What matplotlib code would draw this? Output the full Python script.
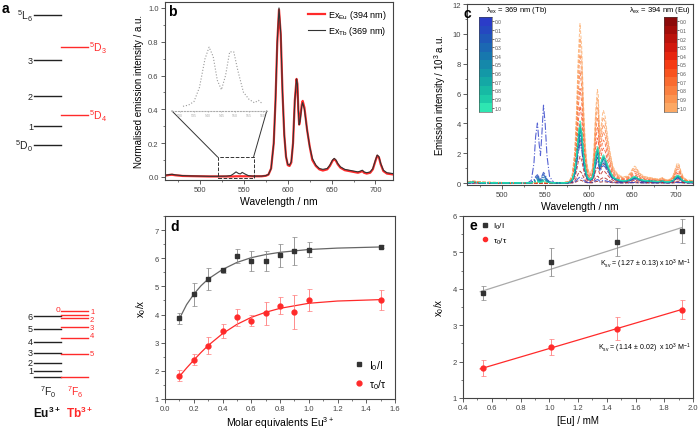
import numpy as np
import matplotlib
matplotlib.use('Agg')
import matplotlib.pyplot as plt
from matplotlib.colors import ListedColormap
from matplotlib.ticker import MultipleLocator, FormatStrFormatter

plt.rcParams['font.family'] = ['Liberation Sans', 'DejaVu Sans']
plt.rcParams['mathtext.default'] = 'regular'
plt.rcParams['axes.linewidth'] = 0.8
plt.rcParams['axes.edgecolor'] = '#444444'
for ax_name in ['xtick', 'ytick']:
    plt.rcParams[ax_name + '.direction'] = 'out'
    plt.rcParams[ax_name + '.major.size'] = 3
    plt.rcParams[ax_name + '.minor.size'] = 1.6
    plt.rcParams[ax_name + '.major.width'] = 0.6
    plt.rcParams[ax_name + '.minor.width'] = 0.5
    plt.rcParams[ax_name + '.labelsize'] = 5.5
    plt.rcParams[ax_name + '.color'] = '#444444'
    plt.rcParams[ax_name + '.major.pad'] = 1.5

RED = '#ff2a2a'

# ---------------- data ----------------
# panel a: energy levels (diagram height, arbitrary units)
eu_upper_h = [285, 304, 334, 370, 415]
eu_upper_lab = ['$^5$D$_0$', '1', '2', '3', '$^5$L$_6$']
tb_upper_h = [315, 383]
tb_upper_lab = ['$^5$D$_4$', '$^5$D$_3$']
eu_lower_h = [53, 59, 67, 77, 88, 101, 114]      # 7F0 .. 7F6
tb_lower_h = [119, 115, 112, 103, 92, 76, 53]    # 7F0 .. 7F6

# panel b: normalised emission spectra
b_wl = [460, 465, 468, 472, 480, 490, 500, 510, 520, 530, 535, 538, 541, 544, 546,
        548, 551, 555, 560, 570, 575, 578, 581, 584, 586, 588, 590, 592, 594, 596,
        598, 600, 602, 604, 606, 608, 610, 611, 612, 613, 614, 616, 617, 619, 622,
        625, 628, 632, 636, 640, 645, 648, 651, 653, 655, 657, 660, 665, 670, 675,
        680, 683, 685, 687, 690, 694, 697, 700, 702, 704, 706, 709, 713, 720]
b_tb = [0.010, 0.014, 0.016, 0.012, 0.008, 0.006, 0.005, 0.004, 0.004, 0.005, 0.008,
        0.018, 0.030, 0.020, 0.018, 0.027, 0.018, 0.008, 0.005, 0.005, 0.008, 0.015,
        0.05, 0.20, 0.45, 0.80, 1.00, 0.85, 0.50, 0.25, 0.12, 0.075, 0.07, 0.09, 0.20,
        0.45, 0.58, 0.55, 0.40, 0.31, 0.33, 0.42, 0.44, 0.40, 0.28, 0.18, 0.11, 0.07,
        0.05, 0.045, 0.05, 0.07, 0.10, 0.11, 0.10, 0.08, 0.06, 0.045, 0.04, 0.035,
        0.03, 0.035, 0.04, 0.03, 0.025, 0.03, 0.05, 0.10, 0.13, 0.12, 0.08, 0.04,
        0.025, 0.02]
b_eu = [0.008, 0.012, 0.013, 0.010, 0.006, 0.005, 0.004, 0.003, 0.003, 0.003, 0.003,
        0.003, 0.004, 0.004, 0.004, 0.004, 0.004, 0.004, 0.004, 0.004, 0.007, 0.014,
        0.05, 0.20, 0.45, 0.79, 0.99, 0.84, 0.50, 0.25, 0.12, 0.07, 0.065, 0.085, 0.20,
        0.45, 0.58, 0.55, 0.40, 0.31, 0.34, 0.43, 0.45, 0.41, 0.28, 0.18, 0.10, 0.065,
        0.045, 0.038, 0.045, 0.065, 0.095, 0.105, 0.095, 0.075, 0.055, 0.04, 0.035,
        0.03, 0.025, 0.03, 0.035, 0.025, 0.02, 0.025, 0.045, 0.095, 0.125, 0.115,
        0.075, 0.035, 0.02, 0.015]
inset_wl = [531, 533, 535, 537, 539, 540.5, 542, 543.5, 545, 546.5, 548, 549.5, 551,
            553, 555, 557, 558.5, 560]
inset_int = [0.004, 0.0045, 0.006, 0.012, 0.024, 0.029, 0.025, 0.015, 0.011, 0.017,
             0.027, 0.027, 0.019, 0.010, 0.007, 0.0055, 0.0065, 0.005]

# panel c: titration spectra (10^3 a.u.)
fractions = ['0.0', '0.1', '0.2', '0.3', '0.4', '0.5', '0.6', '0.7', '0.8', '0.9', '1.0']
eu_amp = [0.2, 0.8, 1.8, 2.9, 4.0, 5.2, 6.4, 7.6, 8.7, 9.8, 10.8]        # lambda_ex 394
tb_amp = [5.2, 0.7, 0.55, 0.45, 0.35, 0.28, 0.22, 0.18, 0.14, 0.10, 0.08]  # lambda_ex 369, 548 nm
tb_eu_amp = [0.4, 2.6, 3.0, 3.3, 3.5, 3.6, 3.7, 3.8, 3.9, 4.0, 4.2]       # lambda_ex 369, 590 nm
tb_band_wl = [530, 534, 537, 539, 541, 543, 544.5, 546, 548, 550, 552, 555, 560]
tb_band = [0.0, 0.03, 0.25, 0.6, 0.77, 0.5, 0.35, 0.6, 1.0, 0.75, 0.35, 0.08, 0.0]
blues = ['#2b3cc8', '#2548c0', '#1f58b8', '#1b68b3', '#1778ae', '#1588aa',
         '#1398a7', '#14a8a5', '#17baa4', '#1dcca8', '#2ee6b2']
reds = ['#8b0a0a', '#a20d0a', '#ba130c', '#d1190e', '#e62610', '#f53b14',
        '#f8531f', '#f96b30', '#fa8040', '#fb9450', '#fca864']

# panel d
d_x = [0.1, 0.2, 0.3, 0.4, 0.5, 0.6, 0.7, 0.8, 0.9, 1.0, 1.5]
d_int = [3.87, 4.72, 5.27, 5.57, 6.07, 5.91, 5.91, 6.10, 6.27, 6.31, 6.41]
d_int_err = [0.2, 0.4, 0.4, 0.1, 0.25, 0.35, 0.35, 0.4, 0.5, 0.25, 0.05]
d_tau = [1.83, 2.39, 2.90, 3.42, 3.90, 3.78, 4.04, 4.31, 4.10, 4.52, 4.52]
d_tau_err = [0.2, 0.2, 0.3, 0.25, 0.3, 0.2, 0.4, 0.3, 0.6, 0.4, 0.35]
d_fit_x = [0.1, 0.15, 0.2, 0.25, 0.3, 0.4, 0.5, 0.6, 0.7, 0.8, 1.0, 1.2, 1.5]
d_fit_int = [3.85, 4.35, 4.72, 5.02, 5.26, 5.60, 5.85, 6.02, 6.13, 6.21, 6.31, 6.36, 6.40]
d_fit_tau = [1.80, 2.10, 2.38, 2.65, 2.90, 3.32, 3.65, 3.90, 4.08, 4.22, 4.40, 4.48, 4.53]

# panel e
e_x = [0.54, 1.01, 1.47, 1.92]
e_int = [3.88, 4.74, 5.28, 5.58]
e_int_err = [0.2, 0.38, 0.38, 0.33]
e_tau = [1.82, 2.39, 2.90, 3.43]
e_tau_err = [0.22, 0.22, 0.32, 0.27]
e_fit_x = [0.52, 1.92]
e_fit_int = [3.92, 5.68]
e_fit_tau = [1.80, 3.43]

# ---------------- figure ----------------
W, H = 700, 431
fig = plt.figure(figsize=(7, 4.31), dpi=100)


def px_axes(x0, y0, x1, y1):
    return fig.add_axes([x0 / W, 1 - y1 / H, (x1 - x0) / W, (y1 - y0) / H])


def ftext(x, y, s, **kw):
    fig.text(x / W, 1 - y / H, s, **kw)


# ---- panel a ----
ax_a = fig.add_axes([0, 0, 112 / W, 1])
ax_a.set_xlim(0, 112)
ax_a.set_ylim(0, H)
ax_a.axis('off')
for h in eu_upper_h:
    ax_a.plot([34, 61], [h, h], color='#222222', lw=1.0)
for h in tb_upper_h:
    ax_a.plot([61, 88], [h, h], color=RED, lw=1.0)
for h in eu_lower_h:
    ax_a.plot([34, 61], [h, h], color='#222222', lw=1.0)
for h in tb_lower_h:
    ax_a.plot([61, 88], [h, h], color=RED, lw=1.0)
for h, lab in zip(eu_upper_h, eu_upper_lab):
    fs = 7.5 if '$' in lab else 6.5
    ax_a.text(33, h, lab, ha='right', va='center', fontsize=fs, color='#222222')
for h, lab in zip(tb_upper_h, tb_upper_lab):
    ax_a.text(89, h, lab, ha='left', va='center', fontsize=7.5, color=RED)
for i in range(1, 7):
    ax_a.text(33, eu_lower_h[i], str(i), ha='right', va='center', fontsize=6.5, color='#222222')
ax_a.text(60, tb_lower_h[0] + 1, '0', ha='right', va='center', fontsize=6, color=RED)
tb_lab_off = [4, -2, 0, 2, 0]
for i in range(1, 6):
    ax_a.text(90, tb_lower_h[i] + tb_lab_off[i - 1], str(i), ha='left', va='center',
              fontsize=5.5, color=RED)
ax_a.text(48, 39, '$^7$F$_0$', ha='center', va='center', fontsize=7.5, color='#222222')
ax_a.text(75, 39, '$^7$F$_6$', ha='center', va='center', fontsize=7.5, color=RED)
ax_a.text(47, 18, 'Eu$^{3+}$', ha='center', va='center', fontsize=8.5, fontweight='bold',
          color='#111111')
ax_a.text(80, 18, 'Tb$^{3+}$', ha='center', va='center', fontsize=8.5, fontweight='bold',
          color=RED)
ftext(2, 9, 'a', fontsize=10, fontweight='bold', va='center')


def style(ax):
    for side in ['top', 'right']:
        ax.tick_params(which='both', **{side: False})


# ---- panel b ----
ax_b = px_axes(165, 3, 393, 181)
ax_b.plot(b_wl, b_eu, color=RED, lw=1.6, label='Ex$_{Eu}$ (394 nm)')
ax_b.plot(b_wl, b_tb, color='#333333', lw=0.8, label='Ex$_{Tb}$ (369 nm)')
ax_b.set_xlim(460, 720)
ax_b.set_ylim(-0.018, 1.035)
ax_b.xaxis.set_major_locator(MultipleLocator(50))
ax_b.xaxis.set_minor_locator(MultipleLocator(25))
ax_b.yaxis.set_major_locator(MultipleLocator(0.2))
ax_b.yaxis.set_minor_locator(MultipleLocator(0.1))
ax_b.yaxis.set_major_formatter(FormatStrFormatter('%.1f'))
ax_b.set_xlabel('Wavelength / nm', fontsize=7.5, labelpad=2)
ax_b.set_ylabel('Normalised emission intensity / a.u.', fontsize=7, labelpad=3)
ax_b.legend(loc='upper right', frameon=False, fontsize=6.5, handlelength=1.8,
            borderaxespad=0.3, labelspacing=0.3, handletextpad=0.4)
# zoom box + inset
ax_b.plot([520, 561, 561, 520, 520], [-0.005, -0.005, 0.118, 0.118, -0.005],
          ls='--', color='#333333', lw=0.7)
ax_b.plot([468, 520], [0.39, 0.118], color='#333333', lw=0.7)
ax_b.plot([576, 561], [0.39, 0.118], color='#333333', lw=0.7)
ins = ax_b.inset_axes([468, 0.39, 108, 0.42], transform=ax_b.transData)
ins.plot(inset_wl, inset_int, ls=':', color='#999999', lw=0.8)
ins.set_xlim(527, 561.5)
ins.set_ylim(0.002, 0.032)
ins.patch.set_alpha(0)
for s in ['top', 'right', 'left']:
    ins.spines[s].set_visible(False)
ins.spines['bottom'].set_linestyle(':')
ins.spines['bottom'].set_color('#aaaaaa')
ins.set_yticks([])
ins.set_xticks([530, 535, 540, 545, 550, 555, 560])
ins.tick_params(axis='x', labelsize=2.5, colors='#aaaaaa', length=1, pad=0.5)
style(ax_b)
ftext(168, 12, 'b', fontsize=10, fontweight='bold', va='center')

# ---- panel c ----
ax_c = px_axes(467, 5, 693, 186)
b_wl_a = np.array(b_wl)
eu_shape = np.array(b_eu)
lo = b_wl_a < 530
hi = b_wl_a > 560
for amp, col in zip(eu_amp, reds):
    ax_c.plot(b_wl, amp * eu_shape, ls='--', lw=0.7, color=col, alpha=0.75)
for ta, ea, col in zip(tb_amp, tb_eu_amp, blues):
    wl = np.concatenate([b_wl_a[lo], tb_band_wl, b_wl_a[hi]])
    inten = np.concatenate([ea * eu_shape[lo], ta * np.array(tb_band) + 0.02,
                            ea * eu_shape[hi]])
    ax_c.plot(wl, inten, ls='-.', lw=0.8, color=col, alpha=0.8)
ax_c.set_xlim(460, 720)
ax_c.set_ylim(-0.13, 12.0)
ax_c.xaxis.set_major_locator(MultipleLocator(50))
ax_c.xaxis.set_minor_locator(MultipleLocator(25))
ax_c.yaxis.set_major_locator(MultipleLocator(2))
ax_c.yaxis.set_minor_locator(MultipleLocator(1))
ax_c.set_xlabel('Wavelength / nm', fontsize=7.5, labelpad=2)
ax_c.set_ylabel('Emission intensity / 10$^3$ a.u.', fontsize=7, labelpad=3)
style(ax_c)
ftext(463, 14, 'c', fontsize=10, fontweight='bold', va='center')
ftext(486, 11, '$\\lambda_{ex}$ = 369 nm (Tb)', fontsize=5.5, va='center')
ftext(691, 11, '$\\lambda_{ex}$ = 394 nm (Eu)', fontsize=5.5, va='center', ha='right')
for x0, cols in [(479, blues), (664, reds)]:
    cb = px_axes(x0, 18, x0 + 13, 113)
    cb.imshow(np.arange(11).reshape(-1, 1), cmap=ListedColormap(cols), aspect='auto',
              extent=(0, 1, 1.05, -0.05), interpolation='nearest')
    cb.set_xticks([])
    cb.set_yticks(np.arange(11) / 10)
    cb.set_yticklabels(fractions)
    cb.yaxis.tick_right()
    cb.tick_params(axis='y', labelsize=3.5, length=1.2, pad=0.8, colors='#555555')
    for s in cb.spines.values():
        s.set_linewidth(0.4)

# ---- panel d ----
ax_d = px_axes(165, 217, 395, 400)
ax_d.plot(d_fit_x, d_fit_int, color='#666666', lw=0.9)
ax_d.plot(d_fit_x, d_fit_tau, color=RED, lw=0.9)
ax_d.errorbar(d_x, d_int, yerr=d_int_err, fmt='s', color='#333333', ms=3.5,
              ecolor='#888888', elinewidth=0.6, capsize=1.8, capthick=0.5)
ax_d.errorbar(d_x, d_tau, yerr=d_tau_err, fmt='o', color=RED, ms=3.5,
              ecolor='#ff7a7a', elinewidth=0.6, capsize=1.8, capthick=0.5)
ax_d.plot([], [], 's', color='#333333', ms=3.5, label='I$_0$/I')
ax_d.plot([], [], 'o', color=RED, ms=3.5, label='τ$_0$/τ')
ax_d.legend(loc='lower right', frameon=False, fontsize=7.5, handlelength=0.8,
            handletextpad=0.6, borderaxespad=0.4, labelspacing=0.5)
ax_d.set_xlim(0, 1.6)
ax_d.set_ylim(1, 7.5)
ax_d.xaxis.set_major_locator(MultipleLocator(0.2))
ax_d.xaxis.set_minor_locator(MultipleLocator(0.1))
ax_d.yaxis.set_major_locator(MultipleLocator(1))
ax_d.yaxis.set_minor_locator(MultipleLocator(0.5))
ax_d.xaxis.set_major_formatter(FormatStrFormatter('%.1f'))
ax_d.set_xlabel('Molar equivalents Eu$^{3+}$', fontsize=7.5, labelpad=1.5)
ax_d.set_ylabel('x$_0$/x', fontsize=7, labelpad=5)
style(ax_d)
ftext(170, 227, 'd', fontsize=10, fontweight='bold', va='center')

# ---- panel e ----
ax_e = px_axes(463, 217, 693, 399)
ax_e.plot(e_fit_x, e_fit_int, color='#aaaaaa', lw=0.9)
ax_e.plot(e_fit_x, e_fit_tau, color=RED, lw=0.9)
ax_e.errorbar(e_x, e_int, yerr=e_int_err, fmt='s', color='#333333', ms=3.5,
              ecolor='#888888', elinewidth=0.6, capsize=1.8, capthick=0.5)
ax_e.errorbar(e_x, e_tau, yerr=e_tau_err, fmt='o', color=RED, ms=3.5,
              ecolor='#ff7a7a', elinewidth=0.6, capsize=1.8, capthick=0.5)
ax_e.plot([], [], 's', color='#333333', ms=3, label='I$_0$/I')
ax_e.plot([], [], 'o', color=RED, ms=3, label='τ$_0$/τ')
ax_e.legend(loc='upper left', frameon=False, fontsize=6, handlelength=0.8,
            handletextpad=0.6, borderaxespad=0.2, labelspacing=0.5,
            bbox_to_anchor=(0.06, 1.0))
ax_e.text(1.985, 4.69, 'K$_{sv}$ = (1.27 ± 0.13) x 10$^3$ M$^{-1}$', fontsize=5,
          ha='right', va='center')
ax_e.text(1.985, 2.38, 'K$_{sv}$ = (1.14 ± 0.02)  x 10$^3$ M$^{-1}$', fontsize=5,
          ha='right', va='center')
ax_e.set_xlim(0.4, 2.0)
ax_e.set_ylim(1, 6)
ax_e.xaxis.set_major_locator(MultipleLocator(0.2))
ax_e.xaxis.set_minor_locator(MultipleLocator(0.1))
ax_e.yaxis.set_major_locator(MultipleLocator(1))
ax_e.yaxis.set_minor_locator(MultipleLocator(0.5))
ax_e.xaxis.set_major_formatter(FormatStrFormatter('%.1f'))
ax_e.set_xlabel('[Eu] / mM', fontsize=7, labelpad=3)
ax_e.set_ylabel('x$_0$/x', fontsize=7, labelpad=5)
style(ax_e)
ftext(470, 226, 'e', fontsize=10, fontweight='bold', va='center')

fig.savefig('out.png', dpi=100)
